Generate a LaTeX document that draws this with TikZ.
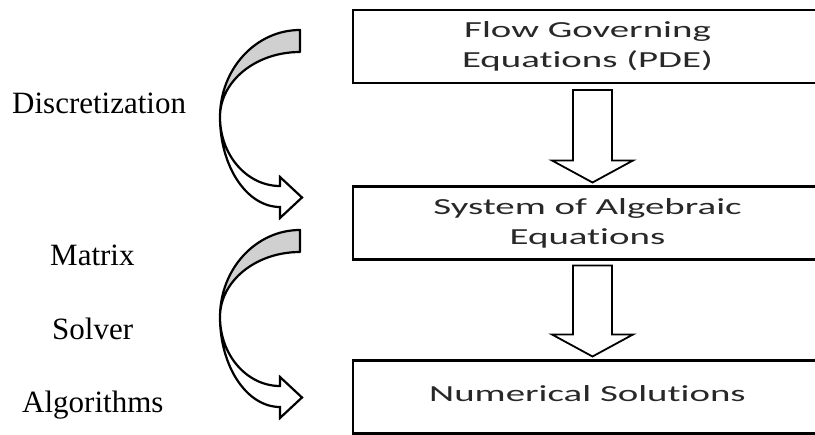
\documentclass[tikz,border=0pt]{standalone}
\usepackage{fontspec}
\setmainfont{Liberation Serif}
\newfontfamily\boxfont[FakeStretch=1.69,Ligatures=NoCommon]{Carlito}
\usetikzlibrary{calc}
\definecolor{bandgray}{RGB}{208,208,208}
\definecolor{boxtext}{RGB}{40,40,40}
\begin{document}
\begin{tikzpicture}[x=1pt,y=-1pt,
  box/.style={draw=black, line width=2.6pt, minimum width=469pt, minimum height=73pt,
    inner sep=0pt, outer sep=0pt, font=\boxfont\fontsize{23}{30}\selectfont,
    text=boxtext, align=center},
  lbl/.style={anchor=base west, font=\fontsize{31}{37}\selectfont, inner sep=0pt},
  barrow/.style={draw=black, line width=1.8pt, fill=white, line join=miter},
  backband/.style={draw=black, line width=2.2pt, fill=bandgray, line join=round},
  frontband/.style={draw=black, line width=2.2pt, fill=white, line join=miter}]
\useasboundingbox (0,0) rectangle (815,435);
\clip (0,0) rectangle (815,435);
\fill[white] (0,0) rectangle (815,435);

% boxes
\node[box] (b1) at (587.5,46.5) {Flow Governing\\Equations (PDE)};
\node[box] (b2) at (587.5,223) {System of Algebraic\\Equations};
\node[box] (b3) at (587.5,397) {\raisebox{6pt}{Numerical Solutions}};

% block arrows
\draw[barrow] let \p1=(b1.south), \p2=(b2.north) in
  (\x1-14.5pt,\y1-7pt) -- (\x1+24.5pt,\y1-7pt) -- (\x1+24.5pt,\y2+26pt)
  -- (\x1+45.5pt,\y2+26pt) -- (\x1+5pt,\y2+4pt) -- (\x1-35.5pt,\y2+26pt)
  -- (\x1-14.5pt,\y2+26pt) -- cycle;
\draw[barrow] let \p1=(b2.south), \p2=(b3.north) in
  (\x1-14.5pt,\y1-6pt) -- (\x1+24.5pt,\y1-6pt) -- (\x1+24.5pt,\y2+26pt)
  -- (\x1+45.5pt,\y2+26pt) -- (\x1+5pt,\y2+4pt) -- (\x1-35.5pt,\y2+26pt)
  -- (\x1-14.5pt,\y2+26pt) -- cycle;

% curved arrows
\foreach \dy in {0,200}{
  \begin{scope}[shift={(0,\dy)}]
    \draw[backband] (300,30) .. controls (255.8,30) and (220,69) .. (220,117)
      .. controls (220,81.1) and (255.8,52) .. (300,52) -- cycle;
    \draw[frontband] (220,117) .. controls (220,166.7) and (246.9,207) .. (280,207)
      -- (280,218) -- (302,197.5) -- (280,177) -- (280,186)
      .. controls (246.9,186) and (220,155.1) .. (220,117) -- cycle;
  \end{scope}
}

% labels
\node[lbl] (l1) at (12,114) {Discretization};
\node[lbl] (l2) at (50,266) {Matrix};
\node[lbl] (l3) at (52,340) {Solver};
\node[lbl] (l4) at (22,413) {Algorithms};
\end{tikzpicture}
\end{document}
